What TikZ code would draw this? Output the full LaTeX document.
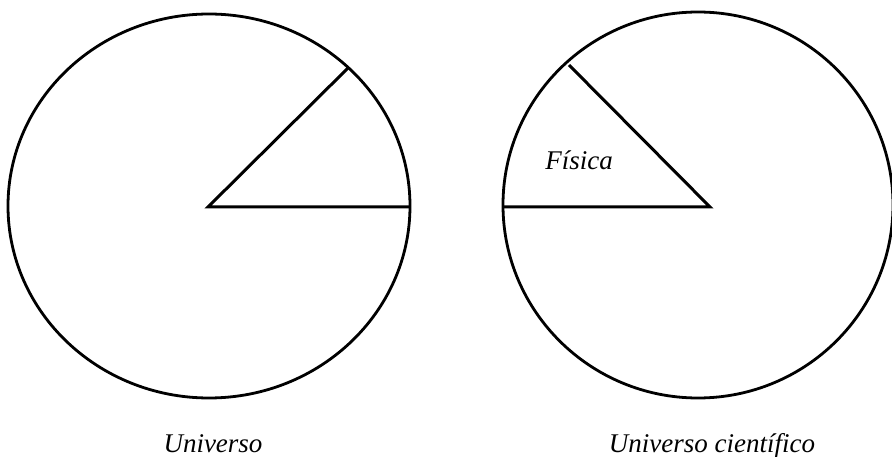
\documentclass[tikz,border=0pt]{standalone}
\usepackage{fontspec}
\setmainfont{Liberation Serif}
\begin{document}
\begin{tikzpicture}[
    x=1pt, y=-1pt,
    rim/.style={draw, line width=2.8pt},
    spoke/.style={draw, line width=3pt, line join=miter},
    caption/.style={font=\fontsize{27}{30}\selectfont\itshape, anchor=base, inner sep=0pt}
]
    \useasboundingbox (0,0) rectangle (892,457);
    \clip (0,0) rectangle (892,457);

    % Universo
    \coordinate (uc) at (209,206);
    \coordinate (uo) at (208,207);
    \coordinate (ur) at (410,207);
    \coordinate (ut) at (348,68);
    \draw[rim] (uc) ellipse [x radius=201, y radius=192];
    \draw[spoke] (ut) -- (uo) -- (ur);
    \node[caption] (universo) at (213,452) {Universo};

    % Universo cientifico
    \coordinate (cc) at (698,205);
    \coordinate (co) at (710,207);
    \coordinate (cl) at (503,207);
    \coordinate (ct) at (569,65);
    \draw[rim] (cc) ellipse [x radius=195, y radius=193];
    \draw[spoke] (ct) -- (co) -- (cl);
    \node[caption] (fisica) at (579,170) {Física};
    \node[caption] (cientifico) at (712,452) {Universo científico};
\end{tikzpicture}
\end{document}
